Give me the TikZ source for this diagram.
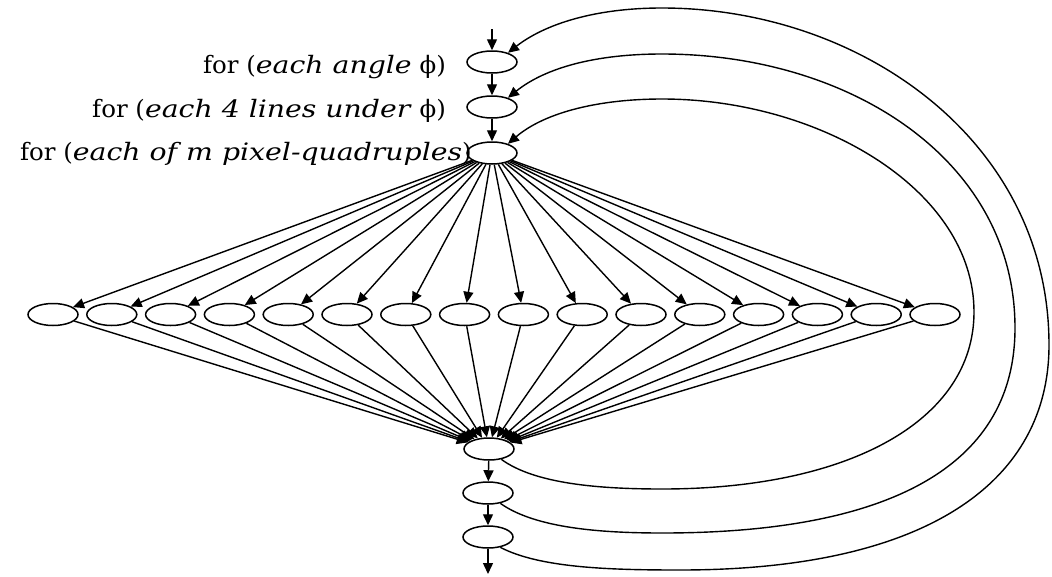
\documentclass[tikz,border=0pt]{standalone}
\usepackage{fontspec}
\setmainfont{DejaVu Serif}[FakeStretch=1.02, ItalicFeatures={FakeStretch=1.18}]
\usetikzlibrary{shapes.geometric,arrows.meta}
\tikzset{
  ov/.style={ellipse, draw, line width=1.5pt, minimum width=50pt, minimum height=22pt, inner sep=0pt},
  ar/.style={line width=1.4pt, -{Triangle[length=11pt,width=10pt]}},
  lab/.style={font=\fontsize{24}{28}\selectfont, inner sep=0pt, anchor=base east}
}
\begin{document}
\begin{tikzpicture}[x=1pt,y=-1pt]
\useasboundingbox (0,0) rectangle (1052,576);
% main chain
\node[ov] (A) at (492,62) {};
\node[ov] (B) at (492,107) {};
\node[ov] (C) at (492,153) {};
\node[ov] (D) at (489,449) {};
\node[ov] (E) at (488,493) {};
\node[ov] (F) at (488,537) {};
\coordinate (start) at (492,29);
\coordinate (finish) at (488,574);
% labels
\node[lab] (l1) at (446,73) {for (\textit{each angle} ϕ)};
\node[lab] (l2) at (446,117) {for (\textit{each 4 lines under} ϕ)};
\node[lab] (l3) at (472,160) {for (\textit{each of m pixel-quadruples})};
% middle row
\foreach \i in {0,...,15} {
  \node[ov] (m\i) at ({53+58.8*\i},314.5) {};
}
\foreach \i in {0,...,15} {
  \draw[ar] (C) -- (m\i);
  \draw[ar] (m\i) -- (D);
}
\draw[ar] (start) -- (A);
\draw[ar] (A) -- (B);
\draw[ar] (B) -- (C);
\draw[ar] (D) -- (E);
\draw[ar] (E) -- (F);
\draw[ar] (F) -- (finish);
% back edges
\draw[ar] (D.-40) .. controls (535,484) and (600,489) .. (662,489)
  .. controls (850,489) and (974,420) .. (974,312)
  .. controls (974,190) and (820,99) .. (662,99)
  .. controls (600,99) and (545,112) .. (C.30);
\draw[ar] (E.-40) .. controls (535,528) and (600,533) .. (662,533)
  .. controls (900,533) and (1015,460) .. (1015,328)
  .. controls (1015,160) and (850,54) .. (662,54)
  .. controls (595,54) and (545,68) .. (B.30);
\draw[ar] (F.-40) .. controls (540,568) and (610,570) .. (680,570)
  .. controls (930,570) and (1049,480) .. (1049,345)
  .. controls (1049,140) and (860,8) .. (662,8)
  .. controls (595,8) and (545,24) .. (A.30);
\end{tikzpicture}
\end{document}
